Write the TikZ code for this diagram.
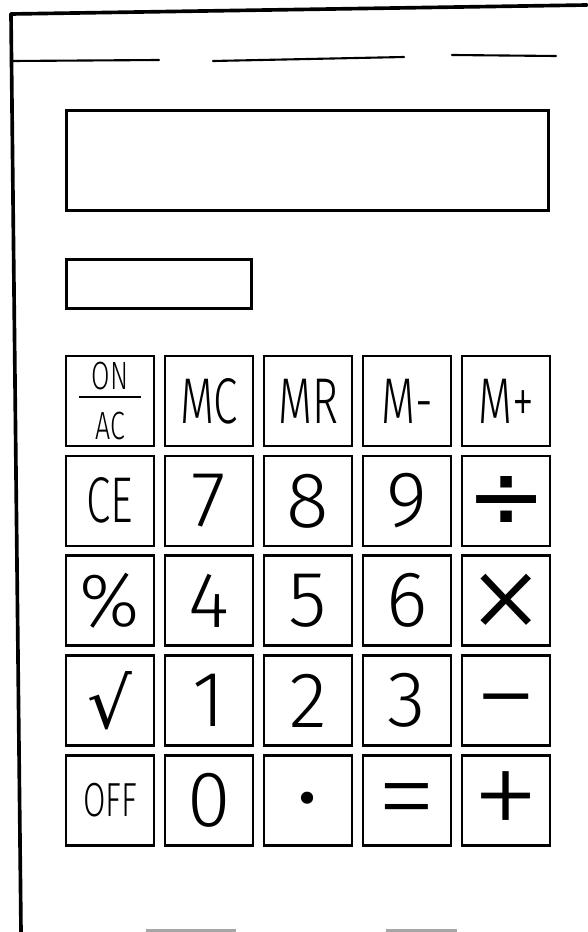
\documentclass[tikz,border=0pt]{standalone}
\usepackage{fontspec}
\usepackage{graphicx}
\setmainfont{Fira Sans Light}
\newfontfamily\thinfont{Fira Sans ExtraLight}
\newfontfamily\symfont{DejaVu Sans}
\usetikzlibrary{positioning}

\newcommand{\narrow}[1]{\scalebox{0.68}[1]{#1}}
\newcommand{\opglyph}[1]{\smash{\raisebox{-0.3em}{#1}}}

\begin{document}
\begin{tikzpicture}[
  x=0.025cm, y=-0.025cm,
  key/.style={
    rectangle, draw, line width=1.8pt, outer sep=0pt,
    minimum width=2.2cm, minimum height=2.25cm,
    inner sep=0pt, align=center, font=\fontsize{56}{56}\selectfont
  },
  opkey/.style={key, font=\fontsize{#1}{#1}\thinfont},
  opkey/.default=110,
  wordkey/.style={key, font=\fontsize{46}{46}\selectfont},
  offkey/.style={key, font=\fontsize{34}{34}\selectfont},
  smallkey/.style={key, font=\fontsize{28}{30}\selectfont},
  panel/.style={
    rectangle, draw, line width=1.8pt,
    anchor=north west, inner sep=0pt
  },
  rim/.style={line width=2.6pt, line cap=round},
  seam/.style={line width=1.5pt, line cap=round},
  stub/.style={line width=3pt, draw=gray!70},
  node distance=0.245cm and 0.275cm,
]

\useasboundingbox (0,0) rectangle (587,932);

%% ════════════════════════════════════════════════
%% CASE
%% ════════════════════════════════════════════════

\draw[rim] (11,14) -- (587,5);
\draw[rim] (11,14) -- (21,932);

%% header seam, broken in three
\draw[seam] (12,61)  -- (159,60);
\draw[seam] (213,61) -- (404,57);
\draw[seam] (452,55) -- (556,56);

%% cut-off stubs at the bottom edge
\draw[stub] (146,931) -- (236,931);
\draw[stub] (386,931) -- (457,931);

%% ════════════════════════════════════════════════
%% DISPLAY
%% ════════════════════════════════════════════════

\node[panel, minimum width=12.05cm, minimum height=2.5cm]  (display) at (65,109) {};
\node[panel, minimum width=4.625cm, minimum height=1.225cm] (memory) at (65,258) {};

%% ════════════════════════════════════════════════
%% KEYPAD
%% ════════════════════════════════════════════════

%% Row 1 -- power + memory
\node[smallkey] (onac) at (110,401)
  {\narrow{ON}\\[-24pt]\rule{1.55cm}{1.8pt}\\[-1pt]\narrow{AC}};
\node[wordkey, right=of onac]   (mc)     {\narrow{MC}};
\node[wordkey, right=of mc]     (mr)     {\narrow{MR}};
\node[wordkey, right=of mr]     (mminus) {\narrow{M-}};
\node[wordkey, right=of mminus] (mplus)  {\narrow{M+}};

%% Row 2
\node[wordkey, below=of onac]  (ce)     {\narrow{CE}};
\node[key, right=of ce]        (seven)  {7};
\node[key, right=of seven]     (eight)  {8};
\node[key, right=of eight]     (nine)   {9};
\node[key, right=of nine, font=\fontsize{68}{68}\symfont] (divide) {\opglyph{÷}};

%% Row 3
\node[key, below=of ce, font=\fontsize{54}{54}\selectfont] (percent) {\%};
\node[key, right=of percent]   (four)   {4};
\node[key, right=of four]      (five)   {5};
\node[key, right=of five]      (six)    {6};
\node[opkey=115, right=of six] (times)  {\opglyph{×}};

%% Row 4
\node[key, below=of percent, font=\fontsize{50}{50}\symfont] (root) {√};
\node[key, right=of root]      (one)    {1};
\node[key, right=of one]       (two)    {2};
\node[key, right=of two]       (three)  {3};
\node[opkey=92, right=of three] (minus) {\opglyph{−}};

%% Row 5
\node[offkey, below=of root]   (off)    {\narrow{OFF}};
\node[key, right=of off]       (zero)   {0};
\node[key, right=of zero, font=\fontsize{90}{90}\selectfont] (point) {\opglyph{·}};
\node[opkey=88, right=of point] (equals) {\opglyph{=}};
\node[opkey=100, right=of equals] (plus) {\opglyph{+}};

\end{tikzpicture}
\end{document}
